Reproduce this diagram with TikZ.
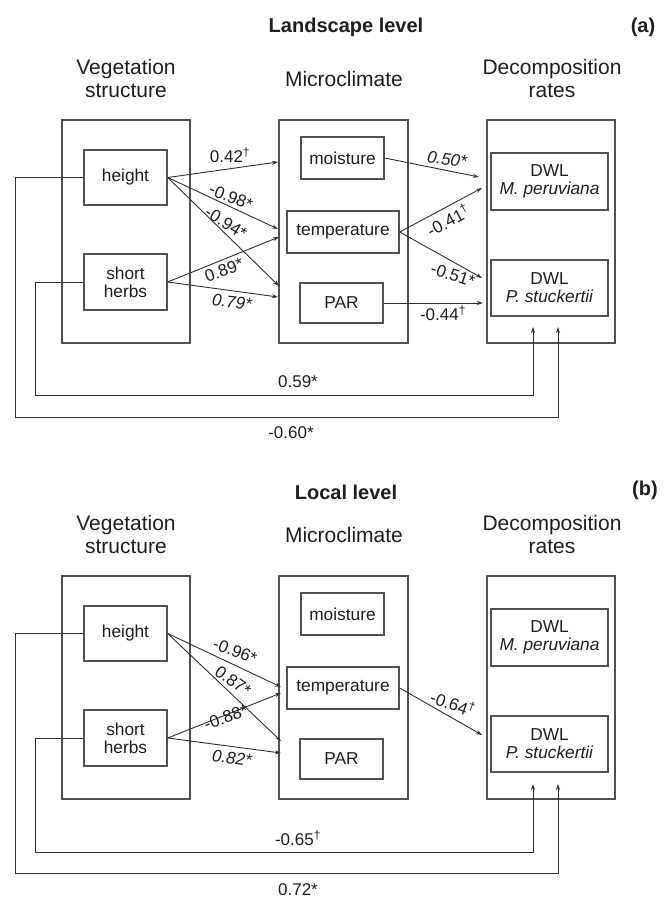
\documentclass[tikz,border=0pt]{standalone}
\usepackage{fontspec}
\setmainfont{Liberation Sans}
\usetikzlibrary{arrows.meta}
\definecolor{boxc}{HTML}{505050}
\definecolor{linec}{HTML}{303030}
\definecolor{txtc}{HTML}{1E1E1E}
\newcommand\hdrfont{\fontsize{21}{24}\selectfont}
\newcommand\ttlfont{\fontsize{20}{23}\selectfont\bfseries}
\newcommand\boxfont{\fontsize{17.3}{20}\selectfont}
\newcommand\lblfont{\fontsize{17}{20}\selectfont}
\newcommand\dg{\textsuperscript{†}}
\begin{document}
\begin{tikzpicture}[x=1pt,y=-1pt]
\tikzset{
  bigbox/.style={draw=boxc, line width=1.4pt, inner sep=0pt, minimum width=128pt, minimum height=223pt},
  inbox/.style={draw=boxc, line width=1.4pt, inner sep=0pt, align=center, font=\boxfont, text=txtc, minimum height=42pt},
  hdr/.style={font=\hdrfont, align=center, text=txtc, inner sep=0pt},
  ttl/.style={font=\ttlfont, text=txtc, inner sep=0pt},
  conn/.style={draw=linec, line width=0.9pt, -{Stealth[length=6pt,width=4pt]}},
  lbl/.style={font=\lblfont, text=txtc, inner sep=0pt},
}
\useasboundingbox (0,0) rectangle (672,900);

% titles
\node[ttl] (ta) at (346,27) {Landscape level};
\node[ttl] (pa) at (643,27) {(a)};
\node[ttl] (tb) at (346,492) {Local level};
\node[ttl] (pb) at (645,490) {(b)};

% boxes and headers of both panels
\foreach \p/\dy in {a/0, b/456} {
  \node[hdr] (\p hv) at (126,{78+\dy}) {Vegetation\\[-1pt]structure};
  \node[hdr] (\p hm) at (344,{79+\dy}) {Microclimate};
  \node[hdr] (\p hd) at (552,{78+\dy}) {Decomposition\\[-1pt]rates};
  \node[bigbox] (\p V) at (126,{231.5+\dy}) {};
  \node[bigbox, minimum width=129pt] (\p M) at (343.5,{231.5+\dy}) {};
  \node[bigbox] (\p D) at (551,{231.5+\dy}) {};
  \node[inbox, minimum width=83pt, minimum height=55pt] (\p H) at (125.5,{177.5+\dy}) {height};
  \node[inbox, minimum width=83pt, minimum height=56pt] (\p S) at (125.5,{282+\dy}) {short\\[-2pt]herbs};
  \node[inbox, minimum width=83pt] (\p Mo) at (342.5,{158+\dy}) {moisture};
  \node[inbox, minimum width=112pt] (\p Te) at (343,{232+\dy}) {temperature};
  \node[inbox, minimum width=83pt, minimum height=40pt] (\p PA) at (341.5,{303+\dy}) {PAR};
  \node[inbox, minimum width=117pt, minimum height=57pt] (\p DM) at (549.5,{181.5+\dy}) {DWL\\[-2pt]\itshape M. peruviana};
  \node[inbox, minimum width=117pt, minimum height=56pt] (\p DP) at (549.5,{288+\dy}) {DWL\\[-2pt]\itshape P. stuckertii};
}

% ---------- panel (a) connectors ----------
\coordinate (aTm) at (278,162);
\coordinate (aTt1) at (278,229);
\coordinate (aTp1) at (279,286);
\coordinate (aTt2) at (279,237);
\coordinate (aTp2) at (278,297);
\draw[conn] (aH.east) -- (aTm);
\draw[conn] (aH.east) -- (aTt1);
\draw[conn] (aH.east) -- (aTp1);
\draw[conn] (aS.east) -- (aTt2);
\draw[conn] (aS.east) -- (aTp2);
\coordinate (aTd1) at (479,177);
\coordinate (aTd2) at (482,188);
\coordinate (aTd3) at (482,278);
\coordinate (aTd4) at (483,303);
\draw[conn] (aMo.east) -- (aTd1);
\draw[conn] (aTe.east) -- (aTd2);
\draw[conn] (aTe.east) -- (aTd3);
\draw[conn] (aPA.east) -- (aTd4);
\coordinate (aLs) at (35,395);
\coordinate (aUs) at (533,327);
\coordinate (aLh) at (15,417);
\coordinate (aUh) at (558,327);
\draw[conn] (aS.west) -| (aLs) -| (aUs);
\draw[conn] (aH.west) -| (aLh) -| (aUh);

\node[lbl] (la1) at (230,155) {0.42\dg};
\node[lbl, rotate=-22] (la2) at (231,197) {-0.98*};
\node[lbl, rotate=-32] (la3) at (226,223) {-0.94*};
\node[lbl, rotate=20] (la4) at (224,270) {0.89*};
\node[lbl, rotate=-6] (la5) at (232,302) {\itshape 0.79*};
\node[lbl, rotate=-8] (la6) at (447,159) {\itshape 0.50*};
\node[lbl, rotate=28] (la7) at (448,220) {-0.41\dg};
\node[lbl, rotate=-18] (la8) at (453,275) {-0.51*};
\node[lbl] (la9) at (443,313) {-0.44\dg};
\node[lbl] (la10) at (298,382) {0.59*};
\node[lbl] (la11) at (291,433) {-0.60*};

% ---------- panel (b) connectors ----------
\coordinate (bTt1) at (281,687);
\coordinate (bTp1) at (281,741);
\coordinate (bTt2) at (281,693);
\coordinate (bTp2) at (281,753);
\draw[conn] (bH.east) -- (bTt1);
\draw[conn] (bH.east) -- (bTp1);
\draw[conn] (bS.east) -- (bTt2);
\draw[conn] (bS.east) -- (bTp2);
\coordinate (bTd) at (482,735);
\draw[conn] (bTe.east) -- (bTd);
\coordinate (bLs) at (35,852);
\coordinate (bUs) at (533,784);
\coordinate (bLh) at (15,873);
\coordinate (bUh) at (558,784);
\draw[conn] (bS.west) -| (bLs) -| (bUs);
\draw[conn] (bH.west) -| (bLh) -| (bUh);

\node[lbl, rotate=-21] (lb1) at (235,651) {-0.96*};
\node[lbl, rotate=-36] (lb2) at (233,681) {0.87*};
\node[lbl, rotate=20] (lb3) at (226,717) {-0.88*};
\node[lbl, rotate=-6] (lb4) at (232,758) {\itshape 0.82*};
\node[lbl, rotate=-20] (lb5) at (453,703) {-0.64\dg};
\node[lbl] (lb6) at (298,838) {-0.65\dg};
\node[lbl] (lb7) at (298,890) {0.72*};
\end{tikzpicture}
\end{document}
